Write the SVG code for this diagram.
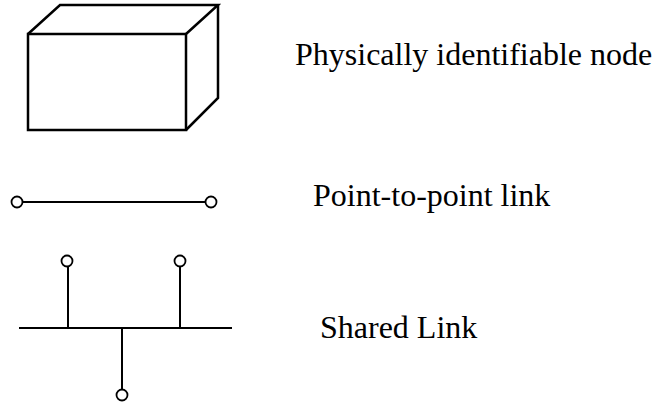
<svg xmlns="http://www.w3.org/2000/svg" width="657" height="404" viewBox="0 0 657 404">
<style>
.box{fill:none;stroke:#000;stroke-width:2.5;stroke-linejoin:miter}
.ln{fill:none;stroke:#000;stroke-width:2}
.pt{fill:#fff;stroke:#000;stroke-width:1.8}
.lbl{font-family:"Liberation Serif","Times New Roman",serif;font-size:32px;fill:#000}
</style>
<rect width="657" height="404" fill="#fff"/>
<g id="node-box">
<rect class="box" x="28" y="34" width="158" height="96"/>
<polyline class="box" points="28,34 60,5 218,5 186,34"/>
<polyline class="box" points="218,5 218,98 186,130"/>
</g>
<g id="connectors">
<line class="ln" x1="22" y1="202" x2="206" y2="202"/>
<line class="ln" x1="19" y1="328" x2="232" y2="328"/>
<line class="ln" x1="68" y1="266" x2="68" y2="328"/>
<line class="ln" x1="180" y1="266" x2="180" y2="328"/>
<line class="ln" x1="122" y1="328" x2="122" y2="389"/>
</g>
<g id="endpoints">
<circle class="pt" cx="17" cy="202" r="5.5"/>
<circle class="pt" cx="211" cy="202" r="5.5"/>
<circle class="pt" cx="67" cy="261" r="5.5"/>
<circle class="pt" cx="180" cy="261" r="5.5"/>
<circle class="pt" cx="122" cy="395" r="5.5"/>
</g>
<g id="labels">
<text class="lbl" x="295" y="65">Physically identifiable node</text>
<text class="lbl" x="313" y="206">Point-to-point link</text>
<text class="lbl" x="320" y="338">Shared Link</text>
</g>
</svg>
